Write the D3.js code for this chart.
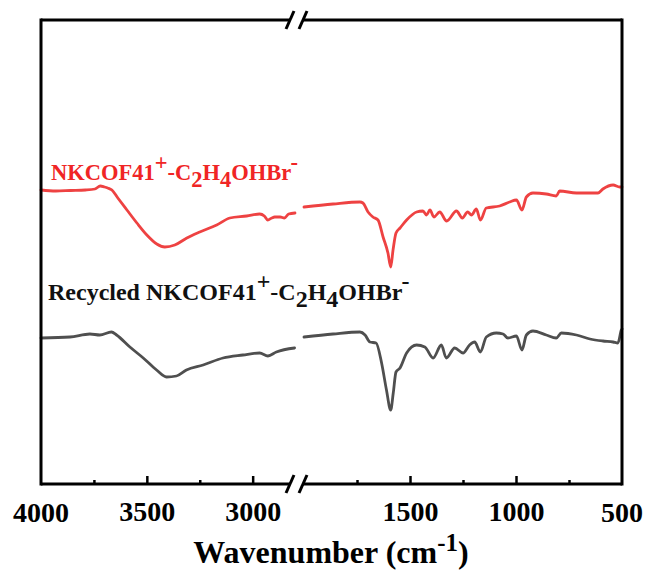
<!DOCTYPE html>
<html>
<head>
<meta charset="utf-8">
<script src="https://cdn.jsdelivr.net/npm/d3@7/dist/d3.min.js"></script>
<style>
  html, body { margin: 0; padding: 0; background: #fff; }
  svg { display: block; }
  text { font-family: "Liberation Serif", "Times New Roman", serif; font-weight: bold; }
</style>
</head>
<body>
<script>
// FTIR spectra on a broken wavenumber axis (4000–2800 | 2000–500 cm-1)

// Fresh sample: high-wavenumber segment
const freshHighWn = [4000,3930,3860,3790,3745,3720,3700,3685,3665,3637,3594,3547,3500,3453,3415,3368,3311,3250,3170,3108,3028,2967,2945,2929,2910,2896,2870,2850,2830,2800];
const freshHighT  = [294,293,293.5,294,295,298,297,296,294,286,274,261,249,240,237,239,246,252,259,266,268,270,268,264,266,267,267,266,270,271];
// Fresh sample: fingerprint segment
const freshLowWn = [2000,1863,1736,1722,1698,1675,1651,1627,1604,1591,1580,1566,1547,1516,1469,1439,1422,1406,1387,1360,1327,1281,1253,1228,1210,1187,1168,1140,1077,1030,998,972,951,920,857,810,794,715,613,590,542,511,500];
const freshLowT  = [277,280,282,281,272,267,264,247,231,217,234,251,256,264,272,273,269,274,267,272,263,273,266,272,269,275,264,276,278,282,284,274,287,291,290,288,293,291,291,295,299,297,297];

// Recycled sample: high-wavenumber segment
const recycledHighWn = [4000,3863,3769,3722,3667,3643,3580,3517,3454,3407,3360,3313,3234,3140,3046,2967,2928,2888,2802];
const recycledHighT  = [146,147,150,149,152,149,137,126,114,107,108,114,119,126,129,131,128,132,136];
// Recycled sample: fingerprint segment
const recycledLowWn = [2000,1863,1736,1712,1689,1660,1634,1611,1591,1579,1566,1547,1516,1469,1430,1391,1352,1329,1289,1250,1219,1195,1168,1140,1093,1061,1038,998,972,951,920,857,810,786,715,651,590,542,519,503,500];
const recycledLowT  = [147,150,152,149,142,141,121,94,74,91,112,116,131,139,137,126,139,126,136,131,139,142,132,147,151,150,146,148,134,149,153,149,146,151,149,145,143,142,141,154,155];

// Axis ticks
const highMajorTicks = [3500, 3000];
const highMinorTicks = [3750, 3250];
const lowMajorTicks = [1500, 1000];
const lowMinorTicks = [1750, 1250, 750];
const edgeLabels = [4000, 500];

const W = 647, H = 573;
const plotL = 41, plotR = 622, plotT = 20, plotB = 484;

const svg = d3.select("body").append("svg").attr("width", W).attr("height", H);

const xHigh = d3.scaleLinear().domain([4000, 2800]).range([plotL, 295]);
const xLow  = d3.scaleLinear().domain([2000, 500]).range([304, plotR]);
const y = d3.scaleLinear().domain([0, 464]).range([plotB, plotT]);

const RED = "#ee4242", GREY = "#4f4f4f";

function drawSeg(wn, t, xs, color) {
  const pts = wn.map((w, i) => [xs(w), y(t[i])]);
  svg.append("path")
    .attr("d", d3.line().curve(d3.curveMonotoneX)(pts))
    .attr("fill", "none").attr("stroke", color)
    .attr("stroke-width", 2.8).attr("stroke-linejoin", "round").attr("stroke-linecap", "round");
}
drawSeg(freshHighWn, freshHighT, xHigh, RED);
drawSeg(freshLowWn, freshLowT, xLow, RED);
drawSeg(recycledHighWn, recycledHighT, xHigh, GREY);
drawSeg(recycledLowWn, recycledLowT, xLow, GREY);

// Frame with break marks on top and bottom edges
const brkA = 290, brkB = 303;
const frame = svg.append("g").attr("stroke", "#000").attr("stroke-width", 3).attr("fill", "none");
frame.append("line").attr("x1", plotL).attr("x2", plotL).attr("y1", plotT - 1.5).attr("y2", plotB + 1.5);
frame.append("line").attr("x1", plotR).attr("x2", plotR).attr("y1", plotT - 1.5).attr("y2", plotB + 1.5);
[plotT, plotB].forEach(yy => {
  frame.append("line").attr("x1", plotL).attr("x2", brkA).attr("y1", yy).attr("y2", yy);
  frame.append("line").attr("x1", brkB).attr("x2", plotR).attr("y1", yy).attr("y2", yy);
  [brkA, brkB].forEach(bx => {
    frame.append("line").attr("x1", bx - 4).attr("y1", yy + 9).attr("x2", bx + 4).attr("y2", yy - 9)
      .attr("stroke-width", 3);
  });
});

// Ticks (inward) and labels
function axis(xs, major, minor) {
  const gMaj = svg.append("g").attr("transform", `translate(0,${plotB})`)
    .call(d3.axisBottom(xs).tickValues(major).tickSize(-8).tickPadding(17).tickFormat(d3.format("d")));
  const gMin = svg.append("g").attr("transform", `translate(0,${plotB})`)
    .call(d3.axisBottom(xs).tickValues(minor).tickSize(-4).tickFormat(""));
  [gMaj, gMin].forEach(g => {
    g.select(".domain").remove();
    g.selectAll("line").attr("stroke", "#000").attr("stroke-width", 2.5);
  });
  gMaj.selectAll("text").attr("font-size", 28).attr("fill", "#000")
    .attr("font-family", "Liberation Serif, serif").attr("font-weight", "bold");
}
axis(xHigh, highMajorTicks, highMinorTicks);
axis(xLow, lowMajorTicks, lowMinorTicks);

// Edge labels at the frame corners
svg.append("text").attr("x", xHigh(edgeLabels[0])).attr("y", 522).attr("text-anchor", "middle")
  .attr("font-size", 28).text(edgeLabels[0]);
svg.append("text").attr("x", xLow(edgeLabels[1])).attr("y", 522).attr("text-anchor", "middle")
  .attr("font-size", 28).text(edgeLabels[1]);

// Axis title
const title = svg.append("text").attr("x", 331).attr("y", 563).attr("text-anchor", "middle").attr("font-size", 32);
title.append("tspan").text("Wavenumber (cm");
title.append("tspan").attr("font-size", 25).attr("dy", -12).text("-1");
title.append("tspan").attr("dy", 12).text(")");

// Series labels with super/subscripts
function formula(g, size) {
  const sup = Math.round(size * 0.45), sub = Math.round(size * 0.3);
  g.append("tspan").text("NKCOF41");
  g.append("tspan").attr("dy", -sup).text("+");
  g.append("tspan").attr("dy", sup).text("-C");
  g.append("tspan").attr("dy", sub).text("2");
  g.append("tspan").attr("dy", -sub).text("H");
  g.append("tspan").attr("dy", sub).text("4");
  g.append("tspan").attr("dy", -sub).text("OHBr");
  g.append("tspan").attr("dy", -sup).text("-");
}
const lab1 = svg.append("text").attr("x", 51).attr("y", 180).attr("font-size", 22.5).attr("fill", "#f02525");
formula(lab1, 22.5);
const lab2 = svg.append("text").attr("x", 48).attr("y", 300).attr("font-size", 24).attr("fill", "#111");
lab2.append("tspan").text("Recycled ");
formula(lab2, 24);
</script>
</body>
</html>
